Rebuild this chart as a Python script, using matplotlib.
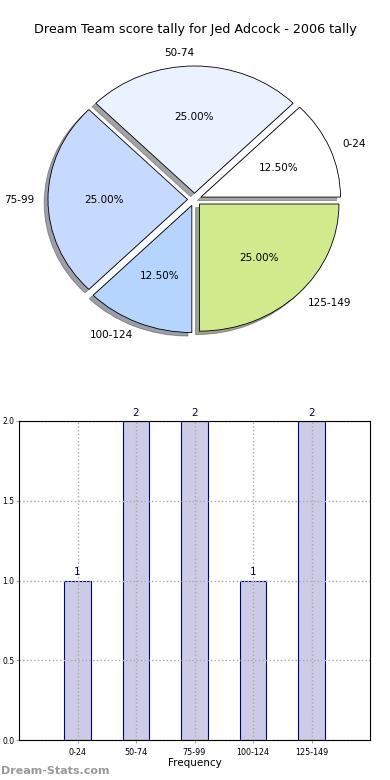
import matplotlib
matplotlib.use('Agg')
import matplotlib.pyplot as plt

# score tally data
categories = ['0-24', '50-74', '75-99', '100-124', '125-149']
counts = [1, 2, 2, 1, 2]
pie_colors = ['#ffffff', '#eaf2ff', '#c6d9ff', '#b5d5ff', '#d0ea8c']

fig = plt.figure(figsize=(3.9, 7.8), dpi=100)

# pie chart (stretched, not equal aspect)
ax1 = fig.add_axes([48/390, 1 - 333/780, 293/390, 267/780])
ax1.pie(counts, labels=categories, colors=pie_colors, autopct='%1.2f%%',
        explode=[0.05] * len(counts), shadow=True, startangle=0,
        wedgeprops={'edgecolor': 'black', 'linewidth': 0.6},
        textprops={'fontsize': 7.5}, labeldistance=1.1, pctdistance=0.6)
ax1.set_aspect('auto')
ax1.set_xlim(-1.05, 1.05)
ax1.set_ylim(-1.05, 1.05)
fig.text(0.5, 1 - 30/780, 'Dream Team score tally for Jed Adcock - 2006 tally',
         ha='center', va='center', fontsize=9.2)

# bar chart
ax2 = fig.add_axes([19/390, 1 - 740/780, 351/390, 319/780])
x = list(range(len(categories)))
ax2.bar(x, counts, width=0.45, color='#ccccE6', edgecolor='#000080', linewidth=0.8, zorder=1)
for xi, c in zip(x, counts):
    ax2.text(xi, c + 0.02, str(c), ha='center', va='bottom', fontsize=7.5, color='#000060')
ax2.set_xlim(-1, 5)
ax2.set_ylim(0, 2)
ax2.set_xticks(x)
ax2.set_xticklabels(categories, fontsize=5.8)
ax2.set_yticks([0.0, 0.5, 1.0, 1.5, 2.0])
ax2.set_yticklabels(['0.0', '0.5', '1.0', '1.5', '2.0'], fontsize=5.5)
ax2.tick_params(length=2, color='#aaaaaa')
ax2.tick_params(axis='y', pad=1.5)
ax2.grid(True, linestyle=':', color='#aaaaaa', linewidth=1, zorder=2)
ax2.set_axisbelow(False)
for sp in ax2.spines.values():
    sp.set_zorder(5)
ax2.set_xlabel('Frequency', fontsize=7.5, labelpad=1)

# watermark
fig.text(1/390, 1 - 771/780, 'Dream-Stats.com', ha='left', va='center',
         fontsize=8, color='#999999', fontweight='bold')

plt.savefig('out.png', dpi=100)
